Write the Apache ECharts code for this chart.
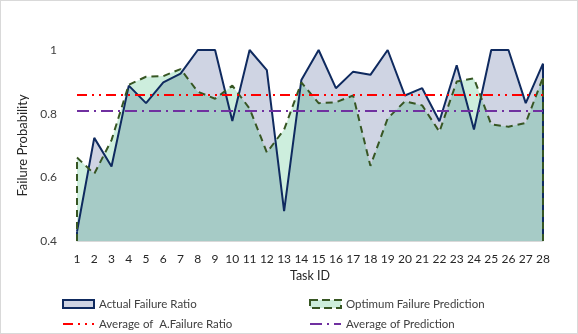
<!DOCTYPE html>
<html>
<head>
<meta charset="utf-8">
<script src="https://cdn.jsdelivr.net/npm/echarts@6/dist/echarts.min.js"></script>
<style>
  html, body { margin: 0; padding: 0; background: #fff; }
  #chart { width: 578px; height: 334px; box-sizing: border-box; border: 1px solid #d9d9d9; }
</style>
</head>
<body>
<div id="chart"></div>
<script>
// task ids 1..28
const taskIds = ['1','2','3','4','5','6','7','8','9','10','11','12','13','14',
  '15','16','17','18','19','20','21','22','23','24','25','26','27','28']

const actualRatio = [0.43, 0.724, 0.634, 0.888, 0.833, 0.898, 0.926, 1.0, 1.0, 0.777,
  1.0, 0.937, 0.494, 0.906, 1.0, 0.88, 0.932, 0.922, 1.0, 0.857,
  0.88, 0.776, 0.952, 0.75, 1.0, 1.0, 0.833, 0.957]

const predRatio = [0.662, 0.611, 0.717, 0.891, 0.916, 0.918, 0.94, 0.869, 0.847, 0.888,
  0.816, 0.678, 0.75, 0.898, 0.833, 0.836, 0.857, 0.636, 0.785, 0.839,
  0.826, 0.743, 0.901, 0.911, 0.766, 0.759, 0.771, 0.914]

const avgActual = 0.864
const avgPred = 0.814

const yTicks = [0.4, 0.6, 0.8, 1]

const names = ['Actual Failure Ratio', 'Optimum Failure Prediction',
  'Average of  A.Failure Ratio', 'Average of Prediction']

const font = 'Lato, "Open Sans", sans-serif'
const yMin = yTicks[0]
const yMax = yTicks[yTicks.length - 1]
const last = taskIds.length - 1

// excel draws the area outline down to the axis at both ends
const edgeLines = (vals) => ([
  [{ coord: [taskIds[0], yMin] }, { coord: [taskIds[0], vals[0]] }],
  [{ coord: [taskIds[last], yMin] }, { coord: [taskIds[last], vals[last]] }]
])

const chart = echarts.init(document.getElementById('chart'))

const legendAt = (left, top, item) => ({
  left, top,
  padding: 0,
  itemWidth: 31,
  itemHeight: 8,
  textStyle: { fontFamily: font, fontSize: 11.5, color: '#404040' },
  data: [item]
})

chart.setOption({
  animation: false,
  textStyle: { fontFamily: font },
  grid: { left: 76, right: 34, top: 49, bottom: 92 },
  legend: [
    legendAt(61, 297, { name: names[0], icon: 'rect',
      itemStyle: { color: '#cfd4e3', borderColor: '#0f2a5f', borderWidth: 2 } }),
    legendAt(308, 297, { name: names[1], icon: 'rect',
      itemStyle: { color: '#cdeedc', borderColor: '#375623', borderWidth: 2, borderType: 'dashed' } }),
    legendAt(61, 317, { name: names[2], itemStyle: { opacity: 0 } }),
    legendAt(308, 317, { name: names[3], itemStyle: { opacity: 0 } })
  ],
  xAxis: {
    type: 'category',
    data: taskIds,
    boundaryGap: false,
    name: 'Task ID',
    nameLocation: 'middle',
    nameGap: 28,
    nameTextStyle: { fontFamily: font, fontSize: 12.5, color: '#262626' },
    axisLine: { lineStyle: { color: '#d9d9d9', width: 1 } },
    axisTick: { show: false },
    axisLabel: { margin: 12, fontSize: 12, color: '#262626', interval: 0 }
  },
  yAxis: {
    type: 'value',
    min: yMin,
    max: yMax,
    interval: 0.2,
    name: 'Failure Probability',
    nameLocation: 'middle',
    nameGap: 32,
    nameTextStyle: { fontFamily: font, fontSize: 13, color: '#262626' },
    axisLine: { show: false },
    axisTick: { show: false },
    splitLine: { show: false },
    axisLabel: { margin: 20, fontSize: 12, color: '#404040' }
  },
  series: [
    {
      name: names[0],
      type: 'line',
      data: actualRatio,
      symbol: 'none',
      lineStyle: { color: '#0f2a5f', width: 2 },
      itemStyle: { color: '#0f2a5f' },
      areaStyle: { color: '#cfd4e3', opacity: 1, origin: 'start' },
      markLine: {
        silent: true, symbol: 'none', label: { show: false },
        lineStyle: { color: '#0f2a5f', width: 2, type: 'solid' },
        data: edgeLines(actualRatio)
      }
    },
    {
      name: names[1],
      type: 'line',
      data: predRatio,
      symbol: 'none',
      lineStyle: { color: '#375623', width: 2, type: [7, 5] },
      itemStyle: { color: '#375623' },
      areaStyle: { color: 'rgba(5,170,85,0.2)', opacity: 1, origin: 'start' },
      markLine: {
        silent: true, symbol: 'none', label: { show: false },
        lineStyle: { color: '#375623', width: 2, type: [7, 5] },
        data: edgeLines(predRatio)
      }
    },
    {
      name: names[2],
      type: 'line',
      data: [],
      symbol: 'none',
      itemStyle: { color: '#ff0000' },
      lineStyle: { color: '#ff0000', width: 2, type: [10, 5, 2, 5, 2, 5] },
      markLine: {
        silent: true, symbol: 'none', label: { show: false },
        lineStyle: { color: '#ff0000', width: 2, type: [10, 5, 2, 5, 2, 5] },
        data: [{ yAxis: avgActual }]
      }
    },
    {
      name: names[3],
      type: 'line',
      data: [],
      symbol: 'none',
      itemStyle: { color: '#7030a0' },
      lineStyle: { color: '#7030a0', width: 2, type: [12, 5, 2, 5] },
      markLine: {
        silent: true, symbol: 'none', label: { show: false },
        lineStyle: { color: '#7030a0', width: 2, type: [12, 5, 2, 5] },
        data: [{ yAxis: avgPred }]
      }
    }
  ]
})
</script>
</body>
</html>
